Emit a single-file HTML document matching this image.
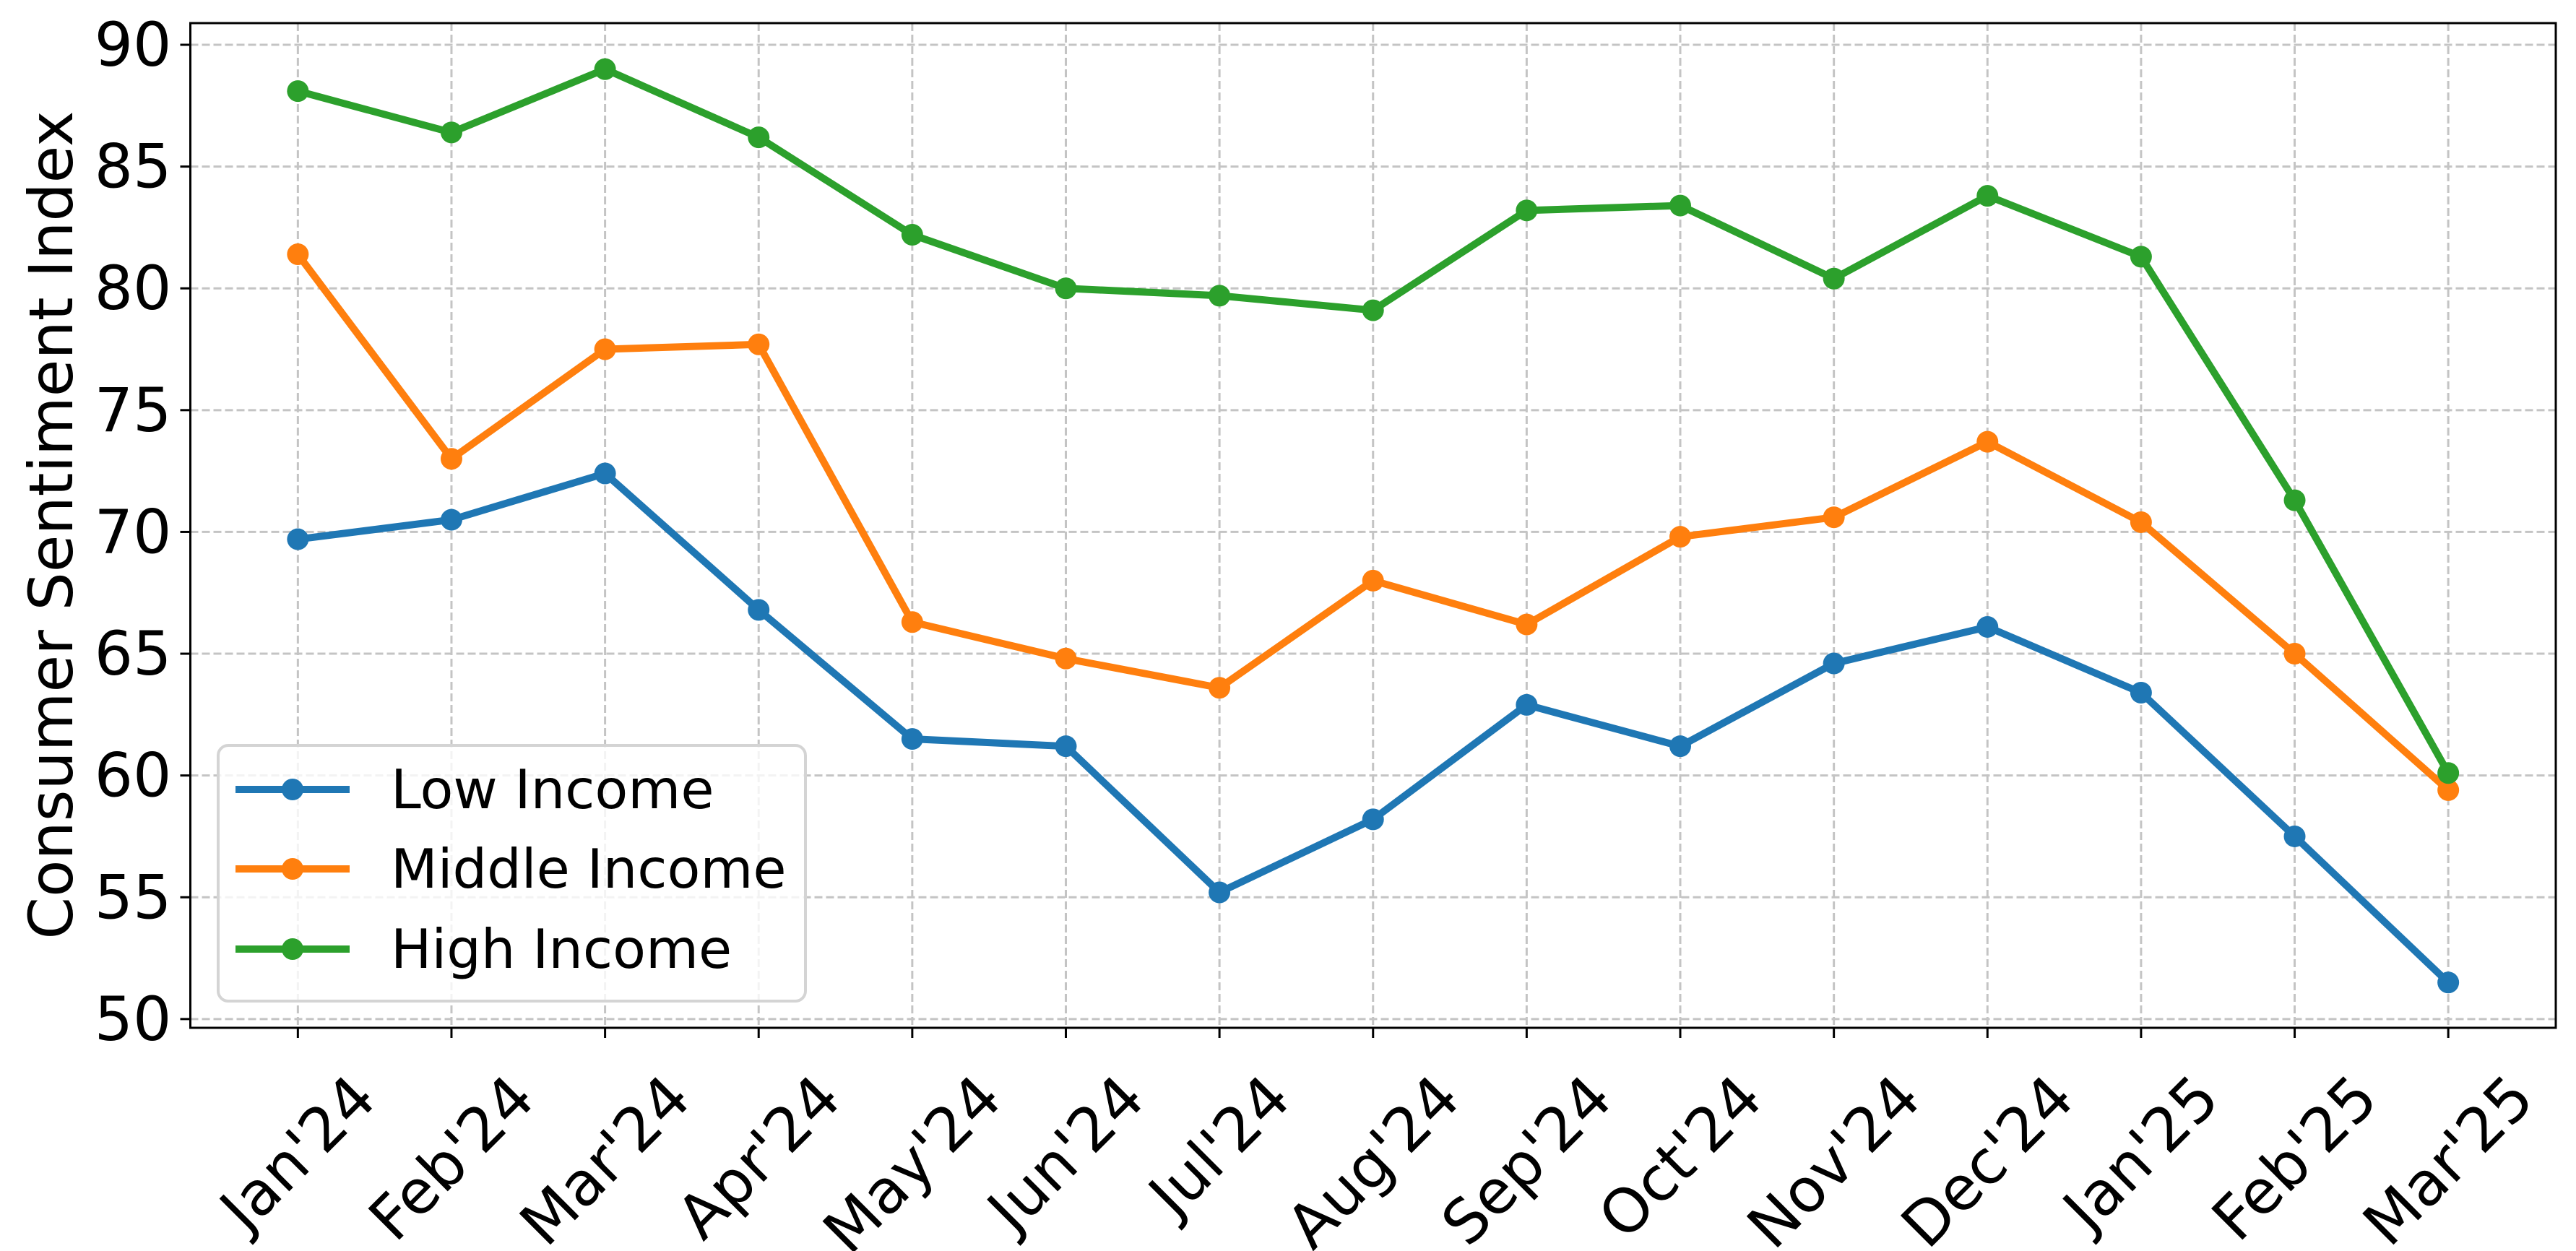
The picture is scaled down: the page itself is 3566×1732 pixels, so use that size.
<!DOCTYPE html>
<html><head><meta charset="utf-8"><style>
html,body{margin:0;padding:0;background:#fff;}
svg{display:block;font-family:"DejaVu Sans","Liberation Sans",sans-serif;}
</style></head><body>
<svg id="chart" width="3566" height="1732" viewBox="0 0 3566 1732" xmlns="http://www.w3.org/2000/svg">
<rect width="3566" height="1732" fill="#fff"/>
<g id="grid"></g>
<g id="series"></g>
<rect x="263.5" y="32" width="3274.5" height="1391" fill="none" stroke="#000" stroke-width="3"/>
<g id="axes"></g>
<text transform="translate(100,727) rotate(-90)" text-anchor="middle" font-size="84" fill="#000">Consumer Sentiment Index</text>
<g id="legend">
<rect x="302" y="1032" width="813" height="354" rx="14" fill="#fff" fill-opacity="0.8" stroke="#d4d4d4" stroke-width="4"/>
</g>
</svg>
<script>
const categories = ["Jan'24","Feb'24","Mar'24","Apr'24","May'24","Jun'24","Jul'24","Aug'24","Sep'24","Oct'24","Nov'24","Dec'24","Jan'25","Feb'25","Mar'25"];
const lowIncome = [69.7,70.5,72.4,66.8,61.5,61.2,55.2,58.2,62.9,61.2,64.6,66.1,63.4,57.5,51.5];
const middleIncome = [81.4,73.0,77.5,77.7,66.3,64.8,63.6,68.0,66.2,69.8,70.6,73.7,70.4,65.0,59.4];
const highIncome = [88.1,86.4,89.0,86.2,82.2,80.0,79.7,79.1,83.2,83.4,80.4,83.8,81.3,71.3,60.1];
const yTicks = [50,55,60,65,70,75,80,85,90];
const seriesNames = ["Low Income","Middle Income","High Income"];
const seriesColors = ["#1f77b4","#ff7f0e","#2ca02c"];

const NS="http://www.w3.org/2000/svg";
const L=263.5,R=3538,T=32,B=1423;
const yMin=49.64,yMax=90.89;
const n=categories.length;
const xStep=(R-L)/(n-1+1.4);
function xS(i){return L+0.7*xStep+i*xStep;}
function yS(v){return B-(v-yMin)/(yMax-yMin)*(B-T);}
function el(tag,attrs,parent){const e=document.createElementNS(NS,tag);for(const k in attrs)e.setAttribute(k,attrs[k]);parent.appendChild(e);return e;}

const grid=document.getElementById('grid');
const axes=document.getElementById('axes');
yTicks.forEach(v=>{
  const y=yS(v);
  const g=el('line',{x1:L,x2:R,y1:y,y2:y,stroke:'#c4c4c4','stroke-width':3,'stroke-dasharray':'11,5'},grid);
  
  
  const t=el('line',{x1:L-14,x2:L,y1:y,y2:y,stroke:'#000','stroke-width':3},axes);
  
  
  const lb=el('text',{x:L-26,y:y,'text-anchor':'end','dominant-baseline':'central','font-size':84,fill:'#000'},axes);
  lb.textContent=v;
  
  
});
categories.forEach((c,i)=>{
  const x=xS(i);
  const g=el('line',{x1:x,x2:x,y1:T,y2:B,stroke:'#c4c4c4','stroke-width':3,'stroke-dasharray':'11,5'},grid);
  
  
  const t=el('line',{x1:x,x2:x,y1:B,y2:B+14,stroke:'#000','stroke-width':3},axes);
  
  
  const lb=el('text',{x:0,y:0,'text-anchor':'middle','dominant-baseline':'central','font-size':84,fill:'#000'},axes);
  lb.textContent=c;
  
  
  const w=lb.getComputedTextLength();
  const h=98;
  const cy=1470+(w+h)/(2*Math.SQRT2);
  lb.setAttribute('transform','translate('+x+','+cy+') rotate(-45)');
});

const series=document.getElementById('series');
[lowIncome,middleIncome,highIncome].forEach((data,si)=>{
  const g=el('g',{},series);
  
  
  const pts=data.map((v,i)=>xS(i)+','+yS(v)).join(' ');
  const pl=el('polyline',{points:pts,fill:'none',stroke:seriesColors[si],'stroke-width':10,'stroke-linejoin':'round','stroke-linecap':'round'},g);
  
  
  data.forEach((v,i)=>{
    const c=el('circle',{cx:xS(i),cy:yS(v),r:15,fill:seriesColors[si]},g);
    
    
  });
});

const legend=document.getElementById('legend');
const legY=[1093,1203,1314];
seriesNames.forEach((nm,si)=>{
  const g=el('g',{},legend);
  
  
  el('line',{x1:326,x2:484,y1:legY[si],y2:legY[si],stroke:seriesColors[si],'stroke-width':10},g);
  el('circle',{cx:405,cy:legY[si],r:15,fill:seriesColors[si]},g);
  const t=el('text',{x:541,y:legY[si],'dominant-baseline':'central','font-size':75,fill:'#000'},g);
  t.textContent=nm;
});
</script>
</body></html>
